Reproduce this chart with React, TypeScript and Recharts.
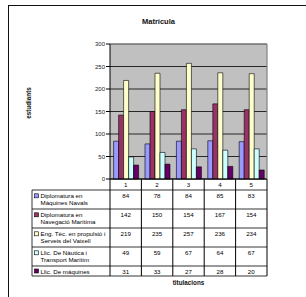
import { BarChart, Bar, XAxis, YAxis, CartesianGrid, ReferenceLine } from "recharts";

const CATEGORIES = ["1", "2", "3", "4", "5"];
const SERIES_LABELS = [
    ["Diplomatura en", "Màquines Navals"],
    ["Diplomatura en", "Navegació Marítima"],
    ["Eng. Tèc. en propulsió i", "Serveis del Vaixell"],
    ["Llic. De Nàutica i", "Transport Marítim"],
    ["Llic. De màquines"],
];
const MAQUINES_NAVALS = [84, 78, 84, 85, 83];
const NAVEGACIO = [142, 150, 154, 167, 154];
const PROPULSIO = [219, 235, 257, 236, 234];
const NAUTICA = [49, 59, 67, 64, 67];
const LLIC_MAQUINES = [31, 33, 27, 28, 20];
const Y_TICKS = [0, 50, 100, 150, 200, 250, 300];

const SERIES = [MAQUINES_NAVALS, NAVEGACIO, PROPULSIO, NAUTICA, LLIC_MAQUINES];
const COLORS = ["#9999ff", "#993366", "#ffffcc", "#ccffff", "#660066"];

const chartData = CATEGORIES.map((cat, i) => {
    const row: Record<string, string | number> = { name: cat };
    SERIES.forEach((s, k) => {
        row[`s${k}`] = s[i];
    });
    return row;
});

// layout
const W = 306;
const H = 297;
const PLOT_LEFT = 110;
const PLOT_RIGHT = 267;
const PLOT_TOP = 44;
const PLOT_BOTTOM = 179;
const BAND = (PLOT_RIGHT - PLOT_LEFT) / CATEGORIES.length;
const CAT_ROW_BOTTOM = 190;
const ROW_H = [19, 19, 19, 19, 10];
const TABLE_LEFT = 32;
const FONT = "'Liberation Sans', Arial, sans-serif";
const FS = 6.2;

function rowTops() {
    const tops: number[] = [];
    let y = CAT_ROW_BOTTOM;
    ROW_H.forEach((h) => {
        tops.push(y);
        y += h;
    });
    return { tops, bottom: y };
}

function TableTick(props: any) {
    const { x, payload } = props;
    const i = props.index ?? payload.index;
    const left = x - BAND / 2;
    const right = x + BAND / 2;
    const { tops, bottom } = rowTops();

    return (
        <g fontFamily={FONT} fontSize={FS} fill="#000">
            <text x={x} y={PLOT_BOTTOM + 8} textAnchor="middle" fill="#000">
                {payload.value}
            </text>
            {i === 0 && <line x1={left} x2={left} y1={PLOT_BOTTOM} y2={bottom} stroke="#000" strokeWidth={1} />}
            <line x1={right} x2={right} y1={PLOT_BOTTOM} y2={bottom} stroke="#000" strokeWidth={1} />
            {tops.map((t, k) => (
                <g key={k}>
                    <line x1={left} x2={right} y1={t} y2={t} stroke="#000" strokeWidth={0.8} />
                    <text x={x} y={t + (ROW_H[k] > 12 ? 8.3 : 7.6)} textAnchor="middle" fill="#000">
                        {SERIES[k][i]}
                    </text>
                </g>
            ))}
            <line x1={left} x2={right} y1={bottom} y2={bottom} stroke="#000" strokeWidth={0.8} />
            {i === 0 && (
                <g>
                    <line x1={TABLE_LEFT} x2={TABLE_LEFT} y1={CAT_ROW_BOTTOM} y2={bottom} stroke="#000" strokeWidth={0.8} />
                    <line x1={TABLE_LEFT} x2={left} y1={bottom} y2={bottom} stroke="#000" strokeWidth={0.8} />
                    {tops.map((t, k) => (
                        <g key={k}>
                            <line x1={TABLE_LEFT} x2={left} y1={t} y2={t} stroke="#000" strokeWidth={0.8} />
                            <rect
                                x={34.5}
                                y={t + (ROW_H[k] > 12 ? 3.8 : 3)}
                                width={4}
                                height={4}
                                fill={COLORS[k]}
                                stroke="#000"
                                strokeWidth={0.6}
                            />
                            {SERIES_LABELS[k].map((line, j) => (
                                <text key={j} x={40.5} y={t + (ROW_H[k] > 12 ? 8.3 : 7.6) + j * 7} fill="#000">
                                    {line}
                                </text>
                            ))}
                        </g>
                    ))}
                </g>
            )}
        </g>
    );
}

export default function App() {
    const { bottom } = rowTops();
    return (
        <div style={{ position: "absolute", left: 0, top: 0, width: W, height: H, background: "#fff", overflow: "hidden" }}>
            <div
                style={{
                    position: "absolute",
                    left: 8,
                    top: 5,
                    width: 310,
                    height: 310,
                    borderLeft: "1.5px solid #111",
                    borderTop: "1.5px solid #111",
                }}
            />
            <div style={{ position: "absolute", left: 0, top: 0 }}>
                <BarChart
                    width={W}
                    height={H}
                    data={chartData}
                    margin={{ top: PLOT_TOP, right: W - PLOT_RIGHT, bottom: H - bottom, left: 0 }}
                    barCategoryGap="11.5%"
                    barGap={0}
                >
                    <CartesianGrid vertical={false} stroke="#000" strokeWidth={0.8} fill="#c0c0c0" fillOpacity={1} />
                    <ReferenceLine y={300} stroke="#909090" strokeWidth={1} />
                    <XAxis
                        dataKey="name"
                        height={bottom - PLOT_BOTTOM}
                        interval={0}
                        tickLine={false}
                        axisLine={{ stroke: "#000" }}
                        tick={(p: any) => <TableTick {...p} />}
                    />
                    <YAxis
                        width={PLOT_LEFT}
                        domain={[0, 300]}
                        ticks={Y_TICKS}
                        interval={0}
                        tickSize={4}
                        tickMargin={1}
                        axisLine={{ stroke: "#000" }}
                        tickLine={{ stroke: "#000" }}
                        tick={{ fontSize: 6, fill: "#222", fontFamily: FONT }}
                    />
                    {SERIES.map((_, k) => (
                        <Bar
                            key={k}
                            dataKey={`s${k}`}
                            fill={COLORS[k]}
                            stroke="#000"
                            strokeWidth={0.6}
                            isAnimationActive={false}
                        />
                    ))}
                </BarChart>
            </div>
            <svg width={W} height={H} style={{ position: "absolute", left: 0, top: 0, pointerEvents: "none" }}>
                <line x1={PLOT_RIGHT} x2={PLOT_RIGHT} y1={PLOT_TOP} y2={PLOT_BOTTOM} stroke="#808080" strokeWidth={1.2} />
                <text x={158.5} y={24} textAnchor="middle" fontFamily={FONT} fontWeight="bold" fontSize={7.5} fill="#111">
                    Matrícula
                </text>
                <text
                    x={188.5}
                    y={285}
                    textAnchor="middle"
                    fontFamily={FONT}
                    fontWeight="bold"
                    fontSize={6.3}
                    fill="#111"
                >
                    titulacions
                </text>
                <text
                    x={31}
                    y={103}
                    textAnchor="middle"
                    fontFamily={FONT}
                    fontWeight="bold"
                    fontSize={6.3}
                    fill="#111"
                    transform="rotate(-90 31 103)"
                >
                    estudiants
                </text>
            </svg>
        </div>
    );
}
